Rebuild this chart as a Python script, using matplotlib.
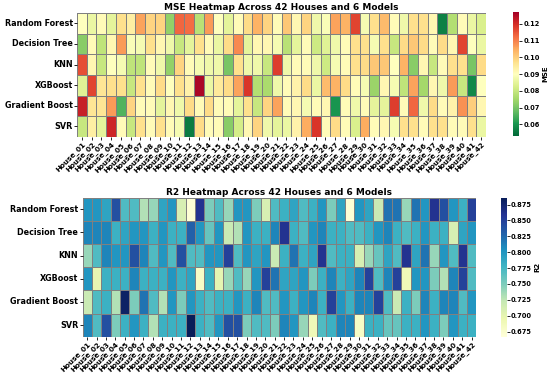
import numpy as np
import matplotlib
matplotlib.use("Agg")
import matplotlib.pyplot as plt
import seaborn as sns

models = ["Random Forest", "Decision Tree", "KNN", "XGBoost", "Gradient Boost", "SVR"]
houses = ["House_%02d" % i for i in range(1, 43)]

# MSE per model, House_01 .. House_42
mse_rf = [.090, .086, .091, .085, .097, .094, .106, .099, .099, .073, .113, .112, .078, .107, .090, .085, .091, .098, .104, .099, .091,
          .101, .092, .099, .087, .089, .106, .104, .117, .088, .097, .103, .091, .087, .097, .097, .092, .057, .077, .091, .086, .083]
mse_dt = [.072, .091, .079, .092, .107, .089, .088, .097, .092, .087, .080, .085, .097, .091, .086, .098, .109, .085, .092, .092, .088,
          .078, .085, .091, .081, .084, .087, .091, .097, .097, .088, .097, .080, .098, .101, .098, .091, .098, .092, .117, .090, .086]
mse_knn = [.116, .092, .080, .090, .088, .079, .079, .091, .087, .073, .099, .091, .088, .087, .087, .070, .097, .087, .087, .080, .118,
           .087, .091, .091, .087, .081, .088, .091, .097, .098, .101, .101, .090, .104, .072, .092, .080, .091, .097, .097, .070, .098]
mse_xgb = [.084, .117, .096, .097, .097, .080, .097, .091, .098, .090, .097, .093, .126, .086, .095, .098, .106, .119, .077, .076, .087,
           .091, .093, .098, .086, .103, .104, .098, .091, .088, .074, .092, .088, .079, .106, .075, .092, .087, .107, .080, .058, .090]
mse_gb = [.122, .096, .096, .107, .066, .099, .091, .091, .085, .092, .087, .098, .091, .098, .091, .091, .085, .097, .080, .099, .106,
          .091, .092, .088, .091, .092, .060, .091, .087, .091, .085, .085, .118, .091, .113, .087, .098, .091, .093, .108, .100, .092]
mse_svr = [.080, .094, .085, .121, .091, .080, .097, .091, .097, .091, .088, .056, .098, .091, .091, .072, .082, .092, .099, .087, .085,
           .086, .093, .105, .119, .091, .098, .091, .083, .105, .091, .092, .088, .097, .097, .091, .097, .097, .091, .091, .097, .086]

# R2 per model, House_01 .. House_42
r2_rf = [.80, .80, .79, .84, .77, .77, .73, .74, .79, .80, .71, .67, .86, .75, .77, .74, .80, .80, .75, .71, .77,
         .78, .79, .77, .78, .80, .75, .79, .67, .80, .79, .72, .82, .82, .74, .82, .80, .86, .84, .80, .78, .85]
r2_dt = [.81, .81, .81, .78, .79, .80, .80, .78, .80, .78, .78, .83, .80, .76, .80, .72, .73, .80, .78, .78, .81,
         .86, .78, .77, .80, .81, .78, .78, .77, .77, .78, .80, .81, .78, .77, .78, .80, .78, .78, .71, .79, .80]
r2_knn = [.74, .77, .81, .80, .80, .84, .81, .77, .80, .77, .84, .77, .77, .80, .80, .85, .77, .80, .79, .80, .72,
          .78, .82, .78, .79, .86, .77, .78, .78, .71, .74, .76, .79, .77, .86, .79, .82, .74, .80, .77, .86, .77]
r2_xgb = [.80, .70, .78, .78, .78, .81, .78, .78, .78, .80, .78, .79, .68, .78, .70, .74, .77, .74, .80, .85, .82,
          .79, .79, .80, .75, .78, .81, .78, .79, .81, .85, .77, .81, .85, .69, .80, .80, .75, .73, .81, .85, .77]
r2_gb = [.72, .77, .78, .73, .88, .75, .82, .77, .73, .80, .75, .80, .78, .77, .78, .78, .80, .78, .81, .77, .77,
         .80, .78, .80, .81, .78, .85, .80, .78, .81, .81, .85, .77, .72, .78, .75, .81, .78, .81, .81, .77, .80]
r2_svr = [.81, .77, .84, .75, .78, .80, .78, .73, .78, .78, .78, .89, .78, .77, .80, .84, .84, .75, .77, .77, .75,
          .81, .80, .74, .69, .77, .78, .81, .81, .68, .78, .78, .76, .76, .78, .78, .80, .78, .75, .80, .78, .78]

mse = np.array([mse_rf, mse_dt, mse_knn, mse_xgb, mse_gb, mse_svr])
r2 = np.array([r2_rf, r2_dt, r2_knn, r2_xgb, r2_gb, r2_svr])

fig = plt.figure(figsize=(5.5, 3.8), dpi=100)

ax1 = fig.add_axes([0.140, 0.640, 0.744, 0.326])
cax1 = fig.add_axes([0.933, 0.642, 0.011, 0.326])
ax2 = fig.add_axes([0.150, 0.114, 0.716, 0.366])
cax2 = fig.add_axes([0.910, 0.114, 0.011, 0.366])

sns.heatmap(mse, ax=ax1, cbar_ax=cax1, cmap="RdYlGn_r", vmin=0.053, vmax=0.127,
            linewidths=0.5, linecolor="gray", xticklabels=houses, yticklabels=models)
sns.heatmap(r2, ax=ax2, cbar_ax=cax2, cmap="YlGnBu", vmin=0.667, vmax=0.886,
            linewidths=0.5, linecolor="gray", xticklabels=houses, yticklabels=models)

for ax, cax, title, lab in [(ax1, cax1, "MSE Heatmap Across 42 Houses and 6 Models", "MSE"),
                            (ax2, cax2, "R2 Heatmap Across 42 Houses and 6 Models", "R2")]:
    ax.set_title(title, fontsize=6.5, fontweight="bold", pad=2)
    ax.set_xticklabels(houses, rotation=45, ha="right", rotation_mode="anchor", fontsize=5.2, fontweight="bold")
    ax.set_yticklabels(models, rotation=0, fontsize=5.8, fontweight="bold")
    ax.tick_params(length=2, width=0.6, pad=1)
    cax.set_ylabel(lab, fontsize=5, fontweight="bold", labelpad=2)
    cax.tick_params(labelsize=4.8, length=2, width=0.6, pad=1)
    for t in cax.get_yticklabels():
        t.set_fontweight("bold")

fig.savefig("out.png", dpi=100)
